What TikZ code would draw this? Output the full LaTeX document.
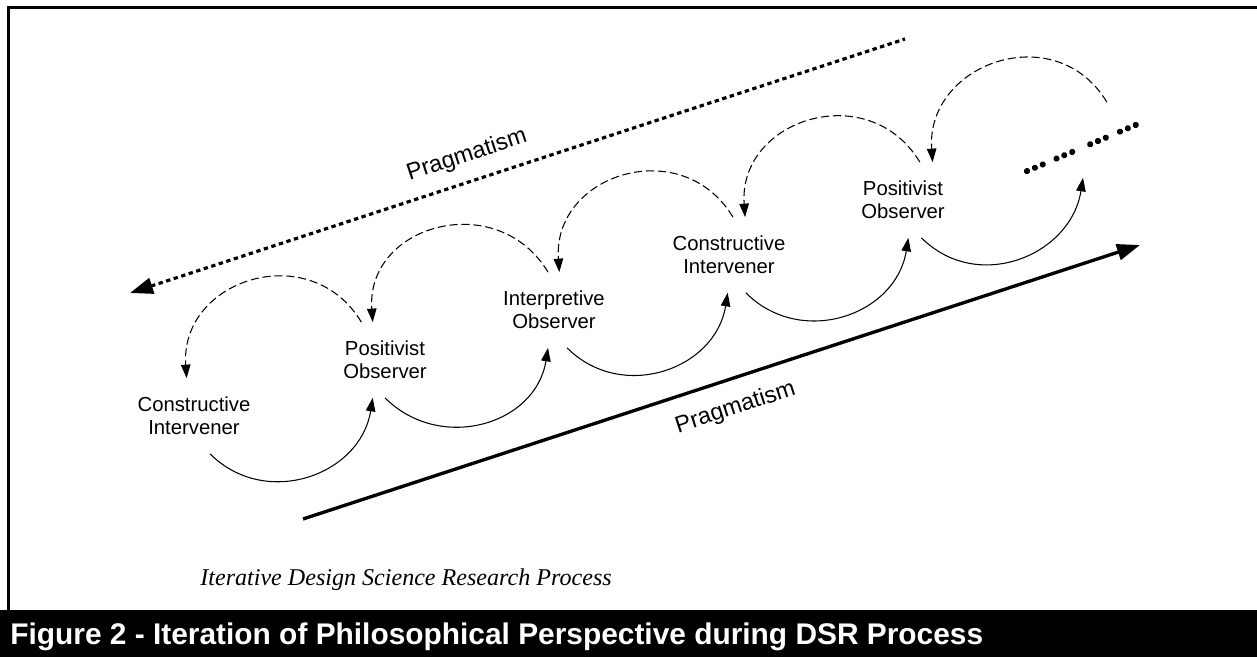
\documentclass[tikz,border=0pt]{standalone}
\usepackage{fontspec}
\setmainfont{Liberation Serif}
\setsansfont{Liberation Sans}
\usepackage{tikz}
\usetikzlibrary{arrows.meta,positioning,calc}

\begin{document}
\begin{tikzpicture}[
  role/.style={font=\sffamily\fontsize{11.55}{13.3}\selectfont, align=center, minimum height=1.5cm, inner sep=1pt},
  fwd/.style={line width=0.6pt, -{Triangle[length=0.27cm,width=0.19cm]}, out=-45, in=-99, looseness=1.17},
  back/.style={line width=0.6pt, dash pattern=on 4.6pt off 2.2pt, -{Triangle[length=0.27cm,width=0.19cm]}, out=121, in=94, looseness=1.38},
  prag/.style={font=\sffamily\fontsize{13.3}{16}\selectfont, sloped, inner sep=0pt}
]
  \useasboundingbox (0,0) rectangle (25.14,13.14);

  % frame and caption bar
  \draw[line width=1.3pt] (25.14,12.99) -| (0.17,0.94);
  \fill (0,0) rectangle (25.14,0.94);
  \node[anchor=base west, inner sep=0pt, text=white, font=\sffamily\bfseries\fontsize{17}{20}\selectfont] (fig) at (0.2,0.24)
    {Figure 2 - Iteration of Philosophical Perspective during DSR Process};
  \node[anchor=base west, inner sep=0pt, font=\itshape\fontsize{13.7}{16}\selectfont] (sub) at (4.0,1.42)
    {Iterative Design Science Research Process};

  % perspectives
  \node[role] (ci1) at (3.88,4.82) {Constructive\\Intervener};
  \node[role] (po1) at (7.70,5.94) {Positivist\\Observer};
  \node[role] (io) at (11.08,6.94) {Interpretive\\Observer};
  \node[role] (ci2) at (14.58,8.04) {Constructive\\Intervener};
  \node[role] (po2) at (18.06,9.14) {Positivist\\Observer};
  \node[role, minimum width=2.6cm] (more) at (21.70,10.34) {};

  % dots
  \begin{scope}[shift={(more.center)}, rotate=23]
    \foreach \t in {0,8.5,17,32,40.5,49,68.5,77,85.5,101,109.5,118}
      \fill ({\t*0.02-1.31},-0.12) circle (0.062);
  \end{scope}

  % forward loops
  \draw[fwd] (ci1.-67) to (po1.-108);
  \draw[fwd] (po1.-90) to (io.-99);
  \draw[fwd] (io.-71) to (ci2.-92);
  \draw[fwd] (ci2.-66) to (po2.-82);
  \draw[fwd] (po2.-64) to (more.-93);

  % backward loops
  \draw[back] (po1.122) to (ci1.101);
  \draw[back] (io.99) to (po1.108);
  \draw[back] (ci2.84) to (io.82);
  \draw[back] (po2.66) to (ci2.67);
  \draw[back] (more.60) to (po2.52);

  % pragmatism arrows
  \coordinate (pl) at (2.60,7.28);
  \coordinate (pr) at (18.10,12.36);
  \draw[line width=1.8pt, dash pattern=on 2.5pt off 2pt, {Triangle[length=0.46cm,width=0.32cm]}-] (pl)
    -- node[prag, pos=0.445, above=7.5pt] (pragtop) {Pragmatism} (pr);

  \coordinate (ql) at (6.06,2.76);
  \coordinate (qr) at (22.80,8.24);
  \draw[line width=1.9pt, -{Triangle[length=0.46cm,width=0.32cm]}] (ql)
    -- node[prag, pos=0.506, below=9.4pt] (pragbot) {Pragmatism} (qr);

\end{tikzpicture}
\end{document}
